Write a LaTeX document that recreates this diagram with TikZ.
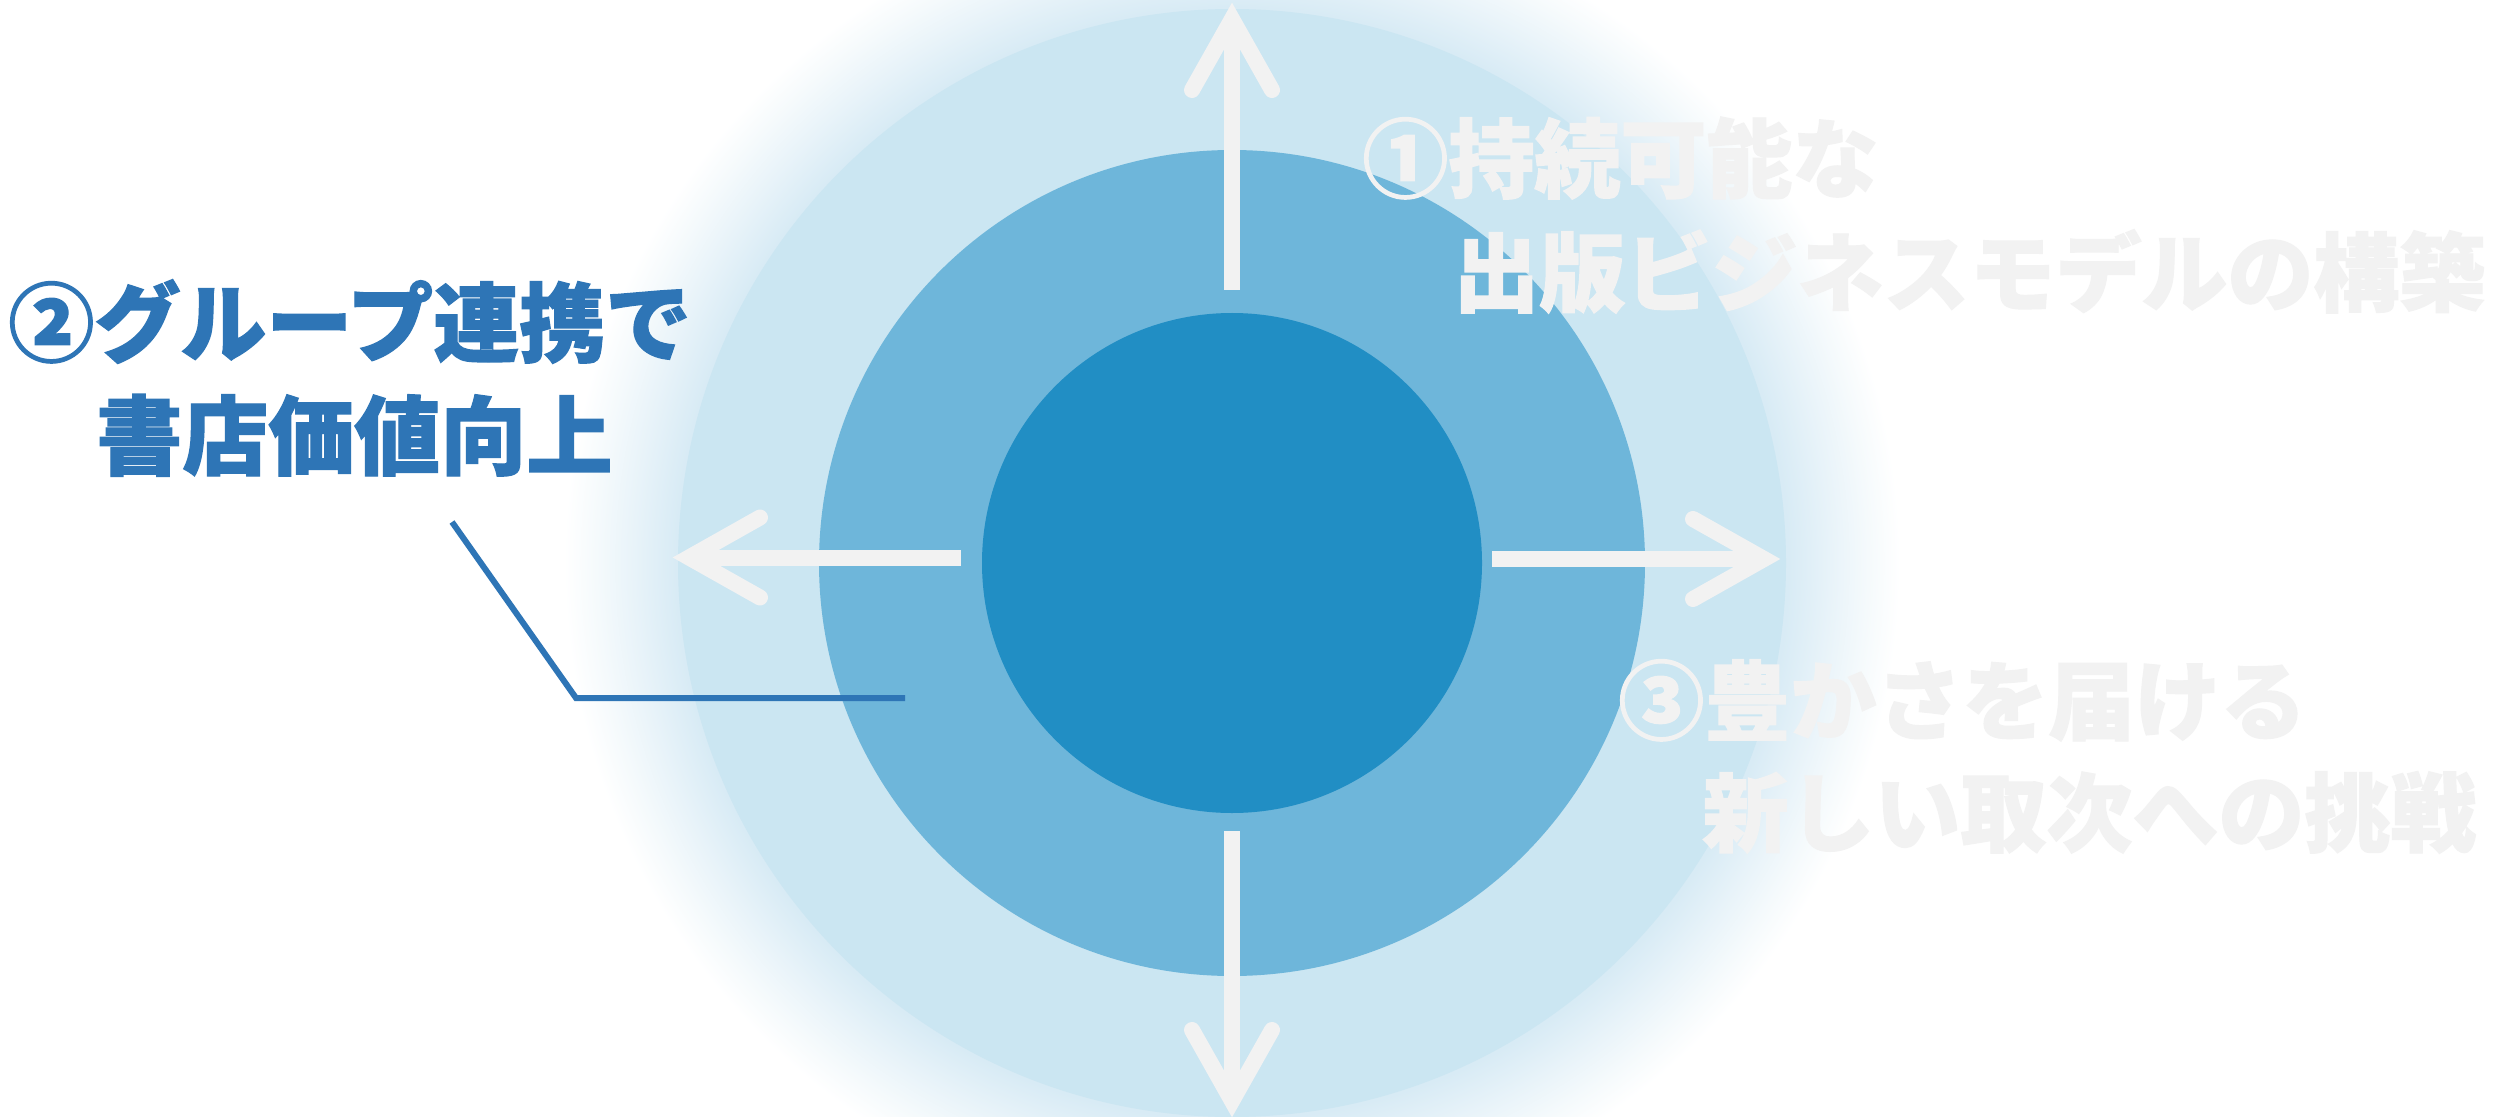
\documentclass[tikz,border=0pt]{standalone}
\usepackage{fontspec}
\newfontfamily\jp{Noto Sans CJK JP}[BoldFeatures={FakeBold=1.5}]
\definecolor{innerblue}{RGB}{33,142,196}
\definecolor{midblue}{RGB}{110,182,218}
\definecolor{outerblue}{RGB}{203,230,242}
\definecolor{glowblue}{RGB}{216,235,245}
\definecolor{glowmid}{RGB}{232,243,249}
\definecolor{glowlight}{RGB}{245,250,252}
\definecolor{arrowgray}{RGB}{242,242,242}
\definecolor{labelblue}{RGB}{46,117,182}
\pgfdeclareradialshading{glowshade}{\pgfpoint{0bp}{0bp}}{color(0bp)=(glowblue); color(20.8bp)=(glowblue); color(22.4bp)=(glowmid); color(23.8bp)=(glowlight); color(25bp)=(white); color(50bp)=(white)}
\tikzset{
  disc/.style={circle, inner sep=0pt, draw=none},
  shaft/.style={draw=arrowgray, line width=8pt, line cap=butt},
  chevron/.style={draw=arrowgray, line width=8pt, line cap=round, line join=miter},
  leader/.style={draw=labelblue, line width=3pt, line join=miter},
  lbl/.style={font=\jp\bfseries\fontsize{43}{43}\selectfont, inner sep=0pt, anchor=base west},
}
\begin{document}
\begin{tikzpicture}[x=0.5pt,y=-0.5pt]
\useasboundingbox (0,0) rectangle (2494,1117);
\clip (0,0) rectangle (2494,1117);
\fill[white] (0,0) rectangle (2494,1117);
\coordinate (C) at (1232,563);
\shade[shading=glowshade] (C) circle[radius=668];
\node[disc, fill=outerblue, minimum size=554pt] (outer) at (C) {};
\node[disc, fill=midblue, minimum size=413pt] (middle) at (C) {};
\node[disc, fill=innerblue, minimum size=250pt] (inner) at (C) {};
% up arrow
\coordinate (upS) at (1232,290); \coordinate (upJ) at (1232,19);
\coordinate (upL) at (1192,90); \coordinate (upR) at (1272,90);
\draw[shaft] (upS) -- (upJ);
\draw[chevron] (upL) -- (upJ) -- (upR);
% down arrow
\coordinate (dnS) at (1232,831); \coordinate (dnJ) at (1232,1101);
\coordinate (dnL) at (1192,1030); \coordinate (dnR) at (1272,1030);
\draw[shaft] (dnS) -- (dnJ);
\draw[chevron] (dnL) -- (dnJ) -- (dnR);
% left arrow
\coordinate (ltS) at (961,557.5); \coordinate (ltJ) at (689,557.5);
\coordinate (ltU) at (760,517.5); \coordinate (ltD) at (760,597.5);
\draw[shaft] (ltS) -- (ltJ);
\draw[chevron] (ltU) -- (ltJ) -- (ltD);
% right arrow
\coordinate (rtS) at (1492,559); \coordinate (rtJ) at (1764,559);
\coordinate (rtU) at (1693,519); \coordinate (rtD) at (1693,599);
\draw[shaft] (rtS) -- (rtJ);
\draw[chevron] (rtU) -- (rtJ) -- (rtD);
% labels
\node[lbl, text=labelblue] (l2a) at (8,355) {②グループ連携で};
\node[lbl, text=labelblue] (l2b) at (96,468) {書店価値向上};
\node[lbl, text=arrowgray] (l1a) at (1362,191) {①持続可能な};
\node[lbl, text=arrowgray] (l1b) at (1453,305) {出版ビジネスモデルの構築};
\node[lbl, text=arrowgray] (l3a) at (1618,733) {③豊かさを届ける};
\node[lbl, text=arrowgray] (l3b) at (1702,845) {新しい取次への挑戦};
% leader line
\coordinate (ldA) at (452,522); \coordinate (ldB) at (576,698); \coordinate (ldC) at (905,698);
\draw[leader] (ldA) -- (ldB) -- (ldC);
\end{tikzpicture}
\end{document}
